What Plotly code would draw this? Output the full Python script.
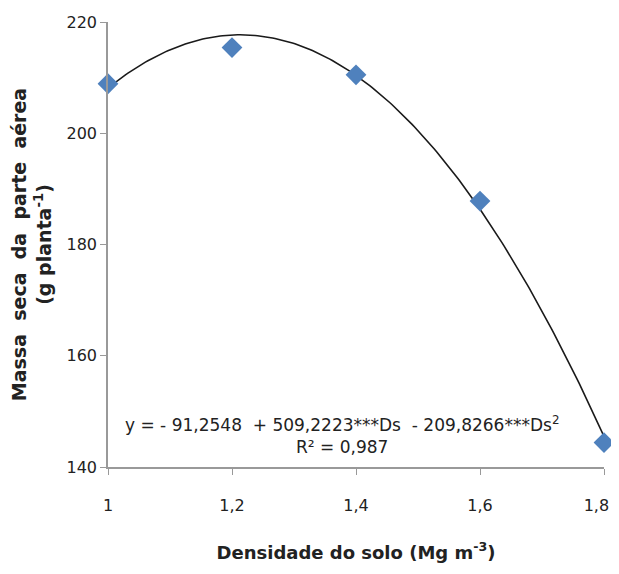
import numpy as np
import plotly.graph_objects as go

densidade = [1.0, 1.2, 1.4, 1.6, 1.8]
massa_seca = [208.9, 215.4, 210.5, 187.8, 144.4]
# regression coefficients shown in the chart's equation
b0, b1, b2 = -91.2548, 509.2223, -209.8266
x_ticks = [1.0, 1.2, 1.4, 1.6, 1.8]
x_tick_labels = ["1", "1,2", "1,4", "1,6", "1,8"]
y_ticks = [140, 160, 180, 200, 220]

xs = np.linspace(1.0, 1.8, 200)
ys = b0 + b1 * xs + b2 * xs ** 2

FONT = "DejaVu Sans, Liberation Sans, Arial"
NB = "\u00a0"
G = NB + " "

# keep the last tick label inside the page edge
tick_text = list(x_tick_labels)
tick_text[-1] = tick_text[-1] + NB * 3

fig = go.Figure()
fig.add_trace(go.Scatter(x=xs, y=ys, mode="lines", cliponaxis=False,
                         line=dict(color="#1a1a1a", width=1.6), hoverinfo="skip"))
fig.add_trace(go.Scatter(x=densidade, y=massa_seca, mode="markers", cliponaxis=False,
                         marker=dict(symbol="diamond", size=16, color="#4F81BD")))

fig.add_annotation(x=1.378, y=145.8, xref="x", yref="y", showarrow=False,
                   text=f"y = - 91,2548 {NB}+ 509,2223***Ds {NB}- 209,8266***Ds<sup>2</sup><br>R² = 0,987",
                   font=dict(family=FONT, size=17, color="#222"),
                   align="center")

fig.update_layout(
    width=603, height=558, showlegend=False,
    paper_bgcolor="white", plot_bgcolor="white",
    margin=dict(l=100, r=7, t=14, b=99),
    font=dict(family=FONT, size=16, color="#222"),
)
fig.update_xaxes(range=[1.0, 1.8], tickvals=x_ticks, ticktext=tick_text,
                 automargin=False, ticklabeloverflow="allow",
                 showgrid=False, zeroline=False, showline=True, linecolor="#999",
                 linewidth=1.5, ticks="outside", ticklen=6, tickcolor="#999",
                 tickfont=dict(size=16), ticklabelstandoff=17,
                 title=dict(text="<b>Densidade do solo (Mg m<sup>-3</sup>)</b>",
                            font=dict(size=18), standoff=32))
fig.update_yaxes(range=[140, 220], tickvals=y_ticks,
                 automargin=False,
                 showgrid=False, zeroline=False, showline=True, linecolor="#999",
                 linewidth=1.5, ticks="outside", ticklen=6, tickcolor="#999",
                 tickfont=dict(size=16),
                 title=dict(text=f"<b>Massa{G}seca{G}da{G}parte{G}aérea<br>(g planta<sup>-1</sup>)</b>",
                            font=dict(size=19), standoff=20))

fig.write_html("out.html")
